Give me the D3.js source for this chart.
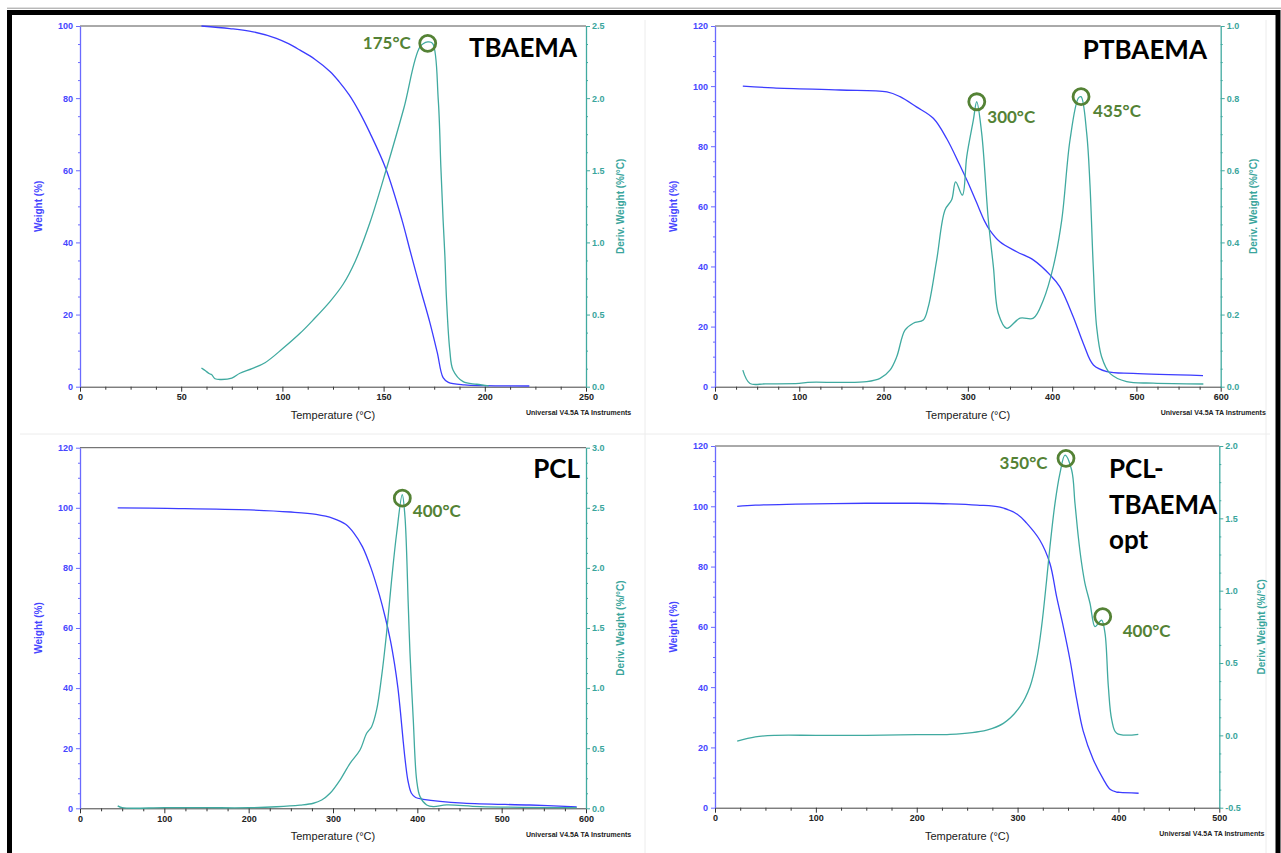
<!DOCTYPE html>
<html><head><meta charset="utf-8">
<script src="https://cdn.jsdelivr.net/npm/d3@7"></script>
<style>
html,body{margin:0;padding:0;background:#fff;}
svg{display:block;}
</style></head>
<body>
<svg id="c" width="1281" height="853"></svg>
<script>
// ---------- DATA ----------
// Panel 1: TBAEMA
const tbaemaWeightT = [60,74,85.5,97,103,108.7,116,123.5,128,133,138,143.3,151.2,159.1,163,168,172.9,176.5,179.4,182,190,200,222];
const tbaemaWeight  = [100,99.3,98.4,96.6,95.1,93.3,90.8,87.4,84.6,80.9,76.2,70.3,60.3,46.2,37.9,27.5,17.7,9.5,2.5,1.2,0.5,0.3,0.2];
const tbaemaDerivT  = [60,62,64,65,66.7,70,75,79,85,91.4,100.3,108.7,115,123.5,130,136,143.3,151.2,160,168,171.8,174.2,177,178.3,179.4,180.3,181.1,182.7,184.3,189.3,196,202];
const tbaemaDeriv   = [0.13,0.11,0.09,0.085,0.055,0.05,0.06,0.093,0.125,0.166,0.266,0.37,0.46,0.59,0.71,0.87,1.14,1.5,1.93,2.356,2.39,2.38,1.99,1.52,1.155,0.9,0.6,0.254,0.116,0.035,0.017,0.005];

// Panel 2: PTBAEMA
const ptbaemaWeightT = [33,69,148,204,219.5,239,259,275,290,300,310,320,326,338,358,378,397.5,409,425,437,449,465,496,579];
const ptbaemaWeight  = [100,99.4,98.7,98.1,96.5,93.1,89.3,82.5,74,68,61.5,55,52.1,48.2,44.9,42.1,37.2,33.3,23.3,14.4,7.2,5,4.4,3.7];
const ptbaemaDerivT  = [33,41.5,60,100,110,150,180,195.8,207.6,215.6,225.4,235.3,247.2,253.1,263,272.9,280.8,285.5,293.5,298.7,306.5,310.5,316.4,324.3,330.3,336.2,346.1,361.9,377.7,389.5,401.4,411.4,421.2,431.1,434.3,441,444.9,448.8,452.8,458.7,468.6,488.4,520,579.4];
const ptbaemaDeriv   = [0.046,0.009,0.008,0.009,0.012,0.012,0.014,0.023,0.046,0.083,0.157,0.176,0.185,0.222,0.351,0.49,0.518,0.568,0.531,0.638,0.739,0.79,0.703,0.462,0.333,0.203,0.162,0.19,0.19,0.24,0.333,0.462,0.684,0.8,0.804,0.703,0.56,0.333,0.166,0.083,0.037,0.014,0.01,0.0075];

// Panel 3: PCL
const pclWeightT = [44.7,102.8,201.6,250,280,300,315,325,335,345,355,362,368,373,377,380,383,386,389,393,398,407,454.5,533.6,589];
const pclWeight  = [100,99.8,99.3,98.6,97.8,96.5,94.5,91.5,87,80,71,63.5,56,48,40,32,23,15,9,5,3.6,3.0,1.7,1.1,0.5];
const pclDerivT  = [44.7,50,100,150,200,233,260.9,276.7,286.6,296.5,308.3,320.2,332,339.9,345.8,351.7,357.6,363.5,369.5,375.5,382.1,385.3,389.3,391.3,395.2,399.2,403.2,411.1,419,434.8,474.3,589];
const pclDeriv   = [0.02,0.005,0.005,0.005,0.005,0.013,0.027,0.042,0.069,0.125,0.235,0.374,0.485,0.624,0.679,0.818,1.095,1.456,1.9,2.29,2.61,2.43,1.68,1.29,0.735,0.235,0.097,0.028,0.014,0.028,0.014,0.005];

// Panel 4: PCL-TBAEMA opt
const optWeightT = [22,40,80,150,200,233,260,282.6,300,309,322,332,338.7,345.3,352,358.6,365,375,385,392,398,401.5,420];
const optWeight  = [100,100.4,100.7,101,101,100.8,100.4,99.7,97.3,94.4,88.8,81.1,70,60.1,49,36,25.5,16,9.5,6,5.2,5.1,4.8];
const optDerivT  = [22,40,60,100,150,200,233,269.4,285.9,302.4,312.3,318.9,323.8,328.8,332.1,337.1,342,347,353.6,356.9,360.2,363.5,366.8,371.8,376.7,380,383.4,386.7,390,393.4,398.3,419.7];
const optDeriv   = [-0.04,-0.01,0,0,0,0.005,0.007,0.037,0.083,0.198,0.336,0.521,0.751,1.074,1.304,1.604,1.811,1.937,1.834,1.604,1.373,1.189,1.051,0.913,0.751,0.774,0.797,0.705,0.336,0.106,0.014,0.007];

// Peak annotations (temperature, deriv value, label)
const tbaemaPeaks  = [{t:171.8, d:2.38, label:"175°C"}];
const ptbaemaPeaks = [{t:310.6, d:0.79, label:"300°C"},{t:434.3, d:0.804, label:"435°C"}];
const pclPeaks     = [{t:382.2, d:2.58, label:"400°C"}];
const optPeaks     = [{t:348, d:1.915, label:"350°C"},{t:384.4, d:0.82, label:"400°C"}];

// Axis ticks
const xTicks250 = [0,50,100,150,200,250];
const xTicks600 = [0,100,200,300,400,500,600];
const xTicks500 = [0,100,200,300,400,500];
const yTicks100 = [0,20,40,60,80,100];
const yTicks120 = [0,20,40,60,80,100,120];
const rTicks25  = [0,0.5,1.0,1.5,2.0,2.5];
const rTicks10  = [0,0.2,0.4,0.6,0.8,1.0];
const rTicks30  = [0,0.5,1.0,1.5,2.0,2.5,3.0];
const rTicksOpt = [-0.5,0,0.5,1.0,1.5,2.0];

const xTitle = "Temperature (°C)";
const yLeftTitle = "Weight (%)";
const yRightTitle = "Deriv. Weight (%/°C)";
const footer = "Universal V4.5A TA Instruments";

// ---------- STYLE ----------
const BLUE = "#3c3cff", BLUE_AX = "#6a6aff", BLUE_TXT = "#4646ff";
const TEAL = "#40aaa0", TEAL_TXT = "#3aa59c";
const GREEN = "#548235";

const svg = d3.select("#c");

[[645,20,645,853],[1266,20,1266,853],[20,434,1270,434]].forEach(l=>{
  svg.append("line").attr("x1",l[0]).attr("y1",l[1]).attr("x2",l[2]).attr("y2",l[3])
    .attr("stroke","#ececec").attr("stroke-width",1);
});
svg.append("line").attr("x1",7).attr("y1",8.2).attr("x2",1281).attr("y2",8.2).attr("stroke","#999").attr("stroke-width",1);
svg.append("rect").attr("x",9.5).attr("y",12.5).attr("width",1268.5).attr("height",900)
  .attr("fill","none").attr("stroke","#000").attr("stroke-width",5);

function zip(a,b){return a.map((v,i)=>[v,b[i]]);}
function minors(major, n){
  const out=[];
  for(let i=0;i<major.length-1;i++){
    const s=(major[i+1]-major[i])/(n+1);
    for(let k=1;k<=n;k++) out.push(major[i]+s*k);
  }
  return out;
}

function drawPanel(cfg){
  const g = svg.append("g");
  const x = d3.scaleLinear().domain(cfg.xDomain).range([cfg.left,cfg.right]);
  const yL = d3.scaleLinear().domain(cfg.yDomain).range([cfg.bottom,cfg.top]);
  const yR = d3.scaleLinear().domain(cfg.rDomain).range([cfg.bottom,cfg.top]);

  g.append("line").attr("x1",cfg.left).attr("x2",cfg.right).attr("y1",cfg.top).attr("y2",cfg.top)
    .attr("stroke","#555").attr("stroke-width",1);

  const font = "'Liberation Sans', Arial, sans-serif";

  const bx = g.append("g").attr("transform",`translate(0,${cfg.bottom})`);
  bx.append("g").call(d3.axisBottom(x).tickValues(minors(cfg.xTicks,3)).tickSize(3).tickSizeOuter(0).tickFormat(""))
    .call(a=>a.select(".domain").remove()).selectAll("line").attr("stroke","#333");
  bx.append("g").call(d3.axisBottom(x).tickValues(cfg.xTicks).tickSize(5).tickSizeOuter(0).tickPadding(2).tickFormat(d3.format("d")))
    .call(a=>{a.select(".domain").attr("stroke","#444");
      a.selectAll("line").attr("stroke","#333");
      a.selectAll("text").attr("fill","#222").style("font","bold 9px "+font);});

  const lx = g.append("g").attr("transform",`translate(${cfg.left},0)`);
  lx.append("g").call(d3.axisLeft(yL).tickValues(minors(cfg.yTicks,3)).tickSize(2).tickSizeOuter(0).tickFormat(""))
    .call(a=>a.select(".domain").remove()).selectAll("line").attr("stroke",BLUE_AX);
  lx.append("g").call(d3.axisLeft(yL).tickValues(cfg.yTicks).tickSize(4).tickSizeOuter(0).tickPadding(3).tickFormat(d3.format("d")))
    .call(a=>{a.select(".domain").attr("stroke",BLUE_AX).attr("stroke-width",1.3);
      a.selectAll("line").attr("stroke",BLUE_AX);
      a.selectAll("text").attr("fill",BLUE_TXT).style("font","bold 9px "+font);});

  const rx = g.append("g").attr("transform",`translate(${cfg.right},0)`);
  rx.append("g").call(d3.axisRight(yR).tickValues(minors(cfg.rTicks,3)).tickSize(2).tickSizeOuter(0).tickFormat(""))
    .call(a=>a.select(".domain").remove()).selectAll("line").attr("stroke",TEAL);
  rx.append("g").call(d3.axisRight(yR).tickValues(cfg.rTicks).tickSize(4).tickSizeOuter(0).tickPadding(2).tickFormat(d=>d.toFixed(1)))
    .call(a=>{a.select(".domain").attr("stroke",TEAL).attr("stroke-width",1.3);
      a.selectAll("line").attr("stroke",TEAL);
      a.selectAll("text").attr("fill",TEAL_TXT).style("font","bold 9px "+font);});

  g.append("text").attr("x",(cfg.left+cfg.right)/2).attr("y",cfg.bottom+32).attr("text-anchor","middle")
    .attr("fill","#1a1a1a").style("font","11px "+font).text(xTitle);
  const cy = (cfg.top+cfg.bottom)/2;
  g.append("text").attr("transform",`translate(${cfg.left-42},${cy}) rotate(-90)`).attr("text-anchor","middle")
    .attr("dominant-baseline","central").attr("fill",BLUE_TXT).style("font","bold 10px "+font).text(yLeftTitle);
  g.append("text").attr("transform",`translate(${cfg.right+cfg.rTitleOff},${cy}) rotate(-90)`).attr("text-anchor","middle")
    .attr("dominant-baseline","central").attr("fill",TEAL_TXT).style("font","bold 10px "+font).text(yRightTitle);
  g.append("text").attr("x",cfg.right-60).attr("y",cfg.bottom+26).attr("dominant-baseline","central")
    .attr("fill","#222").style("font","bold 7px "+font).text(footer);

  const curve = d3.curveCatmullRom.alpha(0.5);
  const lineL = d3.line().x(d=>x(d[0])).y(d=>yL(d[1])).curve(curve);
  const lineR = d3.line().x(d=>x(d[0])).y(d=>yR(d[1])).curve(curve);
  g.append("path").datum(zip(cfg.wT,cfg.w)).attr("d",lineL).attr("fill","none").attr("stroke",BLUE).attr("stroke-width",1.3);
  g.append("path").datum(zip(cfg.dT,cfg.d)).attr("d",lineR).attr("fill","none").attr("stroke",TEAL).attr("stroke-width",1.3);

  cfg.peaks.forEach((p,i)=>{
    const cx = x(p.t), cyy = yR(p.d);
    const o = cfg.labelOff[i];
    g.append("circle").attr("cx",cx).attr("cy",cyy).attr("r",8).attr("fill","none").attr("stroke",GREEN).attr("stroke-width",2.8);
    g.append("text").attr("x",cx+o[0]).attr("y",cyy+o[1]).attr("text-anchor",o[2]).attr("dominant-baseline","central")
      .attr("fill",GREEN).style("font","bold 17px Lato, 'Open Sans', sans-serif").text(p.label);
  });

  cfg.title.forEach((t,i)=>{
    g.append("text").attr("x",cfg.titleX).attr("y",cfg.titleY+i*35.5).attr("text-anchor",cfg.titleAnchor)
      .attr("fill","#000").style("font","bold 26px Lato, 'Open Sans', sans-serif").text(t);
  });
}

drawPanel({left:80,right:586,top:26,bottom:386.7,xDomain:[0,250],yDomain:[0,100],rDomain:[0,2.5],
  xTicks:xTicks250,yTicks:yTicks100,rTicks:rTicks25,rTitleOff:34,
  wT:tbaemaWeightT,w:tbaemaWeight,dT:tbaemaDerivT,d:tbaemaDeriv,peaks:tbaemaPeaks,
  labelOff:[[-17,-1,"end"]],title:["TBAEMA"],titleX:577,titleY:57,titleAnchor:"end"});

drawPanel({left:715,right:1220.7,top:26,bottom:386.7,xDomain:[0,600],yDomain:[0,120],rDomain:[0,1.0],
  xTicks:xTicks600,yTicks:yTicks120,rTicks:rTicks10,rTitleOff:33,
  wT:ptbaemaWeightT,w:ptbaemaWeight,dT:ptbaemaDerivT,d:ptbaemaDeriv,peaks:ptbaemaPeaks,
  labelOff:[[10.5,15,"start"],[12,14.3,"start"]],title:["PTBAEMA"],titleX:1207,titleY:59,titleAnchor:"end"});

drawPanel({left:80,right:586,top:447.7,bottom:808.3,xDomain:[0,600],yDomain:[0,120],rDomain:[0,3.0],
  xTicks:xTicks600,yTicks:yTicks120,rTicks:rTicks30,rTitleOff:34,
  wT:pclWeightT,w:pclWeight,dT:pclDerivT,d:pclDeriv,peaks:pclPeaks,
  labelOff:[[10.5,12.4,"start"]],title:["PCL"],titleX:580,titleY:478,titleAnchor:"end"});

drawPanel({left:715,right:1219.3,top:446,bottom:807.7,xDomain:[0,500],yDomain:[0,120],rDomain:[-0.5,2.0],
  xTicks:xTicks500,yTicks:yTicks120,rTicks:rTicksOpt,rTitleOff:42,
  wT:optWeightT,w:optWeight,dT:optDerivT,d:optDeriv,peaks:optPeaks,
  labelOff:[[-18.5,4.4,"end"],[20,13.3,"start"]],title:["PCL-","TBAEMA","opt"],titleX:1109,titleY:478,titleAnchor:"start"});
</script>
</body></html>
